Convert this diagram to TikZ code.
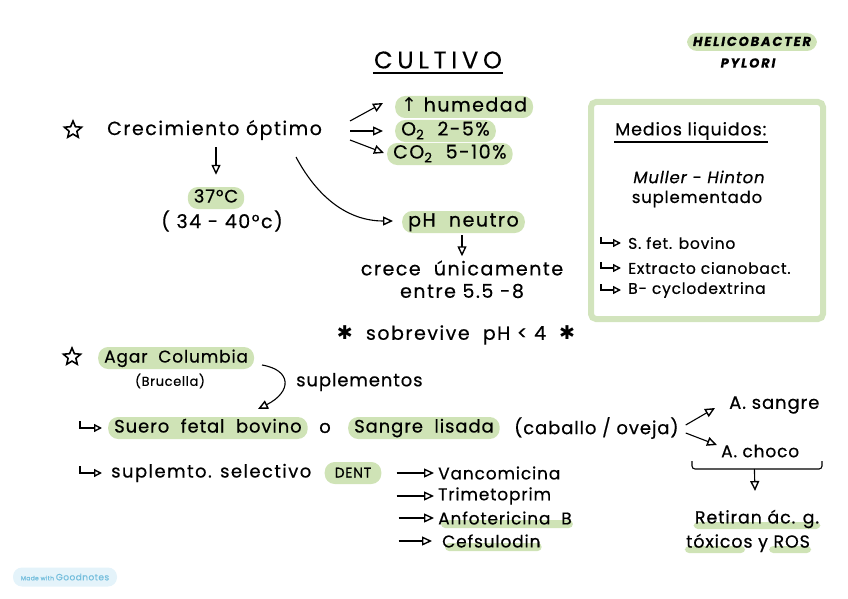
\documentclass[tikz,border=0pt]{standalone}
\usepackage{fontspec}
\setmainfont[LetterSpace=5,FakeBold=0.5]{Poppins}
\newfontfamily\dejavu{DejaVu Sans}
\usetikzlibrary{arrows.meta,shapes.geometric,calc,backgrounds}
\definecolor{hlg}{HTML}{CFE3B6}
\definecolor{boxg}{HTML}{D2E4BD}
\definecolor{gnblue}{HTML}{E4F3FA}
\definecolor{gntext}{HTML}{74BEDD}
\tikzset{
  txt/.style={inner sep=1pt, font=\fontsize{18}{20}\selectfont},
  big/.style={inner sep=1pt, font=\fontsize{19}{21}\selectfont\addfontfeature{LetterSpace=8}},
  sm/.style={inner sep=1pt, font=\fontsize{15.5}{17}\selectfont},
  xs/.style={inner sep=1pt, font=\fontsize{13}{15}\selectfont},
  hl/.style={fill=hlg, rounded corners=10pt, inner xsep=6pt, inner ysep=2.5pt, text height=13pt, text depth=4pt},
  arr/.style={-{Triangle[open,length=10pt,width=9pt,line width=1.4pt]}, line width=1.1pt},
  hook/.style={-{Triangle[open,length=8pt,width=8pt,line width=1.4pt]}, line width=1.1pt},
  starn/.style={star, star points=5, star point ratio=2.2, draw, line width=1.6pt, minimum size=18pt, inner sep=0pt},
}
\begin{document}
\begin{tikzpicture}[x=1pt,y=-1pt]
\useasboundingbox (0,0) rectangle (848,599);
% title
\node[font=\fontsize{24}{26}\selectfont\addfontfeature{LetterSpace=20}, inner sep=1pt] (cult) at (438,60) {CULTIVO};
\draw[line width=1.8pt] ([yshift=-3pt]cult.south west) -- ([yshift=-3pt]cult.south east);
\node[hl, font=\fontsize{13}{15}\selectfont\bfseries\itshape\addfontfeature{LetterSpace=14}, text height=10pt, text depth=2pt, inner ysep=3pt] (heli) at (752,42) {HELICOBACTER};
\node[font=\fontsize{13}{15}\selectfont\bfseries\itshape\addfontfeature{LetterSpace=14}, inner sep=1pt] (pyl) at (748,63) {PYLORI};
% crecimiento
\node[starn] (s1) at (73,130) {};
\node[big, anchor=west] (crec) at (106,130) {Crecimiento óptimo};
\node[txt, hl] (t37) at (216,198) {37°C};
\node[big] (rng) at (222,221) {( 34 - 40°c)};
\draw[arr] (crec.south -| t37.north) ++(0,-6pt) -- ([yshift=12pt]t37.north);
\node[big, hl, anchor=west] (hum) at (395,107) {{\dejavu ↑} humedad};
\node[big, hl, anchor=west] (o2) at (395,131) {O\textsubscript{2} \ 2-5\%};
\node[big, hl, anchor=west] (co2) at (387,154) {CO\textsubscript{2} \ 5-10\%};
\coordinate (a0) at (350,121);
\coordinate (a1) at (350,131);
\coordinate (a2) at (350,140);
\draw[arr] (a0) -- ([xshift=-12pt,yshift=4pt]hum.west);
\draw[arr] (a1) -- ([xshift=-12pt,yshift=0pt]o2.west);
\draw[arr] (a2) -- ([xshift=-3pt,yshift=1pt]co2.west);
\node[big, hl, anchor=west] (ph) at (402,222) {pH \ neutro};
\coordinate (phs) at (296,157);
\draw[arr] (phs) to[out=-62,in=180] ([xshift=-9pt,yshift=1pt]ph.west);
\node[big] (crece) at (462,268) {crece \ únicamente};
\node[big] (entre) at (462,291) {entre 5.5 -8};
\draw[arr] ([yshift=-2pt]ph.south -| crece.north) -- ([yshift=3pt]crece.north);
% box
\node[draw=boxg, line width=6pt, rounded corners=5pt, minimum width=232pt, minimum height=217pt] (box) at (707,210.5) {};
\node[inner sep=1pt, font=\fontsize{17.5}{19}\selectfont, anchor=west] (med) at (614,131) {Medios liquidos:};
\draw[line width=1.5pt] ([yshift=-1pt]med.south west) -- ([yshift=-1pt]med.south east);
\node[inner sep=1pt, font=\fontsize{16.5}{18}\selectfont\itshape] (mh) at (699,177) {Muller - Hinton};
\node[inner sep=1pt, font=\fontsize{16.5}{18}\selectfont] (supm) at (697,199) {suplementado};
\node[sm, anchor=west] (b1) at (627,243) {S. fet. bovino};
\node[sm, anchor=west] (b2) at (627,268) {Extracto cianobact.};
\node[sm, anchor=west] (b3) at (627,290) {B- cyclodextrina};
\foreach \b in {b1,b2,b3}{
  \draw[hook] ([xshift=-26pt,yshift=6pt]\b.west) |- ([xshift=-6pt]\b.west);
}
% sobrevive
\node[big] (sobr) at (456,335) {{\dejavu ✱} \ sobrevive \ pH < 4 \ {\dejavu ✱}};
% agar
\node[starn] (s2) at (72,357) {};
\node[hl, font=\fontsize{17}{19}\selectfont, anchor=west] (agar) at (98,358) {Agar \ Columbia};
\node[xs] (bruc) at (170,381) {(Brucella)};
\node[txt, anchor=west] (supl) at (295,382) {suplementos};
\node[txt, hl, anchor=west] (sfb) at (108,428) {Suero \ fetal \ bovino};
\node[txt] (o) at (325,428) {o};
\node[txt, hl, anchor=west] (sl) at (348,428) {Sangre \ lisada};
\node[txt, anchor=west] (cab) at (513,428) {(caballo / oveja)};
\draw[hook] ([xshift=-28pt,yshift=7pt]sfb.west) |- ([xshift=-6pt]sfb.west);
\coordinate (ags) at (262,365);
\draw[arr] (ags) .. controls (292,370) and (292,392) .. (258,409);
\node[txt, anchor=west] (asan) at (728,405) {A. sangre};
\node[txt, font=\fontsize{17}{19}\selectfont, anchor=west] (acho) at (720,451) {A. choco};
\draw[arr] ([xshift=6pt,yshift=3pt]cab.east) -- ([xshift=-13pt,yshift=-3pt]asan.west);
\draw[arr] ([xshift=6pt,yshift=-5pt]cab.east) -- ([xshift=-3pt,yshift=6pt]acho.west);
\coordinate (bl) at (692,461);
\coordinate (br) at (822,461);
\draw[line width=1.1pt, rounded corners=3pt] (bl) -- ++(0,8) -- ([yshift=-8pt]br) -- (br);
\node[inner sep=1pt, font=\fontsize{17.5}{19}\selectfont] (ret) at (757,519) {Retiran ác. g.};
\node[inner sep=1pt, font=\fontsize{17.5}{19}\selectfont] (tox) at (748,543) {tóxicos y ROS};
\draw[arr] ($(bl)!0.48!(br)+(0,8)$) -- (755,491);
\begin{scope}[on background layer]
  \fill[hlg, rounded corners=4pt] ([yshift=-3pt]ret.west) rectangle ([yshift=-10pt]ret.east);
  \fill[hlg, rounded corners=4pt] ([yshift=-3pt]tox.west) rectangle ([xshift=-66pt,yshift=-10pt]tox.east);
  \fill[hlg, rounded corners=4pt] ([xshift=-42pt,yshift=-3pt]tox.east) rectangle ([yshift=-10pt]tox.east);
\end{scope}
% DENT
\node[inner sep=1pt, font=\fontsize{18}{20}\selectfont\addfontfeature{LetterSpace=8}, anchor=west] (sel) at (110,473) {suplemto. selectivo};
\node[txt, hl, font=\fontsize{14}{16}\selectfont, inner xsep=10pt] (dent) at (353,473) {DENT};
\draw[hook] ([xshift=-30pt,yshift=7pt]sel.west) |- ([xshift=-8pt]sel.west);
\node[txt, font=\fontsize{17}{19}\selectfont, anchor=west] (van) at (437,473) {Vancomicina};
\node[txt, font=\fontsize{17}{19}\selectfont, anchor=west] (tri) at (437,496) {Trimetoprim};
\node[txt, font=\fontsize{17}{19}\selectfont, anchor=west] (anf) at (437,518) {Anfotericina \ B};
\node[txt, font=\fontsize{17}{19}\selectfont, anchor=west] (cef) at (441,541) {Cefsulodin};
\draw[arr] ([xshift=15pt]dent.east) -- ([xshift=-3pt]van.west);
\draw[arr] (dent.east |- tri.west) ++(15pt,0) -- ([xshift=-3pt]tri.west);
\draw[arr] (dent.east |- anf.west) ++(17pt,0) -- ([xshift=-3pt]anf.west);
\draw[arr] (dent.east |- cef.west) ++(17pt,0) -- ([xshift=-9pt]cef.west);
\begin{scope}[on background layer]
  \fill[hlg, rounded corners=4pt] ([xshift=4pt,yshift=-2pt]anf.west) rectangle ([yshift=-10pt]anf.east);
  \fill[hlg, rounded corners=4pt] ([xshift=4pt,yshift=-2pt]cef.west) rectangle ([yshift=-10pt]cef.east);
\end{scope}
% goodnotes
\node[fill=gnblue, rounded corners=9pt, minimum width=104pt, minimum height=19pt, inner sep=0pt, text=gntext, font=\fontsize{6}{7}\selectfont] (gn) at (65,577) {Made with {\fontsize{9}{10}\selectfont Goodnotes}};
\end{tikzpicture}
\end{document}
